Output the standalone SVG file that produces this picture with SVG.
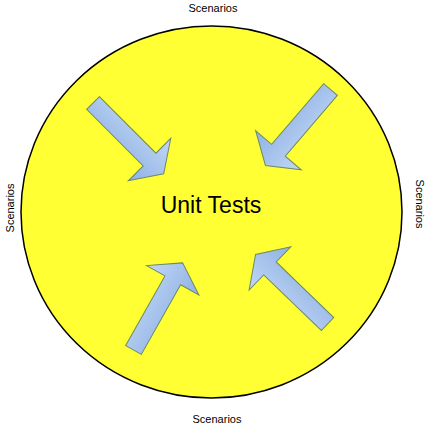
<svg xmlns="http://www.w3.org/2000/svg" width="426" height="427" viewBox="0 0 426 427">
  <defs>
    <linearGradient id="blue" x1="0" y1="0" x2="0" y2="1">
      <stop offset="0" stop-color="#c2d7f4"/>
      <stop offset="1" stop-color="#8eb1e5"/>
    </linearGradient>
    <path id="arrow" d="M0,-9 L80,-9 L80,-30 L100,0 L80,30 L80,9 L0,9 Z"/>
  </defs>
  <style>
    .lbl { font-family: "Liberation Sans", Arial, sans-serif; font-size: 11px; fill: #000; text-anchor: middle; }
    .title { font-family: "Liberation Sans", Arial, sans-serif; font-size: 23px; fill: #000; text-anchor: middle; }
    .arr { fill: url(#blue); stroke: #6a8a66; stroke-width: 1; stroke-linejoin: miter; }
  </style>
  <rect width="426" height="427" fill="#ffffff"/>
  <g id="circle">
    <ellipse cx="211.5" cy="212" rx="190.5" ry="186" fill="#ffff33" stroke="#000" stroke-width="1.5"/>
    <text class="title" x="211" y="213">Unit Tests</text>
  </g>
  <g id="labels">
    <text class="lbl" x="213" y="12">Scenarios</text>
    <text class="lbl" x="217" y="423">Scenarios</text>
    <text class="lbl" transform="translate(14,208) rotate(-90)">Scenarios</text>
    <text class="lbl" transform="translate(416,204) rotate(90)">Scenarios</text>
  </g>
  <g id="connectors">
    <use href="#arrow" class="arr" transform="translate(93,103) rotate(45)"/>
    <use href="#arrow" class="arr" transform="translate(330.5,89.5) rotate(130.6)"/>
    <use href="#arrow" class="arr" transform="translate(133.5,350) rotate(-60.6)"/>
    <use href="#arrow" class="arr" transform="translate(327.5,324) rotate(224)"/>
  </g>
</svg>
